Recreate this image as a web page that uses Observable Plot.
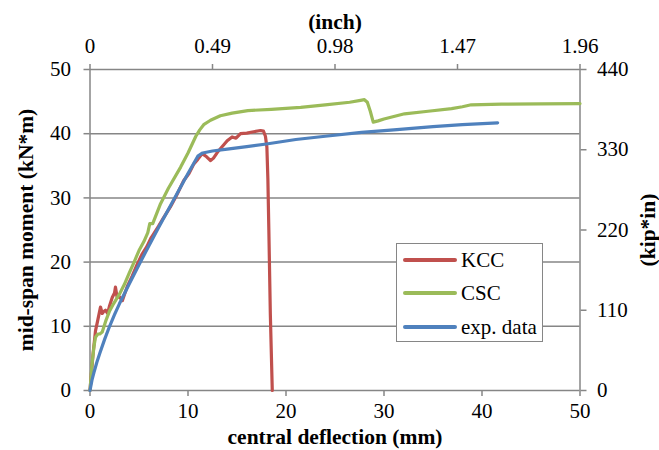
<!DOCTYPE html>
<html>
<head>
<meta charset="utf-8">
<script src="https://cdn.jsdelivr.net/npm/d3@7"></script>
<script src="https://cdn.jsdelivr.net/npm/@observablehq/plot@0.6"></script>
<style>
  body { margin: 0; background: #fff; }
  #wrap { position: relative; width: 659px; height: 450px; }
  #wrap svg, #wrap svg text { font-family: "Liberation Serif", "Times New Roman", serif !important; }
  #legend {
    position: absolute; left: 396px; top: 243px; width: 147px; height: 99px;
    background: #fff; border: 1.5px solid #868686; box-sizing: border-box;
    font-family: "Liberation Serif", "Times New Roman", serif; font-size: 21px; color: #000;
  }
  .li { position: absolute; left: 0; height: 24px; display: flex; align-items: center; }
  .li span.sw { display: inline-block; width: 54px; height: 3.5px; margin-left: 6px; margin-right: 4px; border-radius: 2px; }
</style>
</head>
<body>
<div id="wrap"></div>
<script>
// ---- data ----
const seriesNames = ["KCC", "CSC", "exp. data"];
const seriesColors = ["#C0504D", "#9BBB59", "#4F81BD"];

const kccX = [0, 0.3, 0.56, 0.8, 1.07, 1.25, 1.4, 1.58, 1.8, 2.0, 2.27, 2.5, 2.6, 2.77, 3.0, 3.3, 3.8, 4.3, 4.8, 5.3, 5.8, 6.2, 6.5, 7.0, 7.5, 8.2, 8.8, 9.57, 10.1, 10.6, 11.0, 11.45, 11.9, 12.3, 12.6, 13.0, 13.5, 14.0, 14.5, 14.9, 15.36, 16.0, 16.7, 17.4, 17.7, 17.9, 18.05, 18.15, 18.25, 18.4, 18.6];
const kccY = [0, 5.5, 9.3, 11.0, 13.0, 12.0, 12.3, 12.5, 12.0, 13.2, 14.5, 15.2, 16.1, 14.5, 14.6, 14.0, 16.2, 17.8, 19.6, 21.2, 22.4, 23.7, 24.4, 25.6, 26.9, 28.6, 30.3, 32.7, 33.8, 35.3, 36.0, 36.9, 36.4, 35.8, 36.2, 37.1, 38.0, 38.9, 39.5, 39.3, 40.0, 40.1, 40.3, 40.5, 40.4, 39.6, 37.9, 33.0, 25.0, 12.0, 0];

const cscX = [0, 0.2, 0.4, 0.56, 0.8, 1.0, 1.25, 1.6, 2.0, 2.4, 3.0, 3.5, 4.0, 4.5, 5.0, 5.5, 5.9, 6.1, 6.4, 7.2, 8.0, 9.25, 10.0, 10.8, 11.2, 11.6, 12.3, 13.3, 14.5, 16.1, 18.5, 21.5, 24.0, 26.5, 27.6, 28.0, 28.3, 28.6, 28.9, 29.4, 30.0, 32.1, 34.5, 36.9, 38.0, 38.9, 42.0, 46.0, 50.0];
const cscY = [0, 4.0, 6.8, 8.3, 8.8, 8.8, 9.1, 10.8, 12.4, 13.5, 15.0, 16.5, 18.3, 20.0, 21.8, 23.2, 24.6, 26.0, 26.0, 29.1, 31.5, 34.8, 37.0, 39.6, 40.6, 41.4, 42.1, 42.8, 43.2, 43.6, 43.8, 44.1, 44.5, 44.9, 45.2, 45.3, 44.9, 43.5, 41.8, 42.0, 42.3, 43.1, 43.5, 43.9, 44.2, 44.5, 44.6, 44.65, 44.7];

const expX = [0, 0.2, 0.4, 0.7, 1.0, 1.5, 2.0, 2.5, 3.0, 4.0, 5.0, 6.0, 7.0, 8.0, 9.0, 10.0, 11.0, 11.5, 12.5, 14.0, 16.0, 18.0, 21.0, 24.0, 27.7, 31.0, 35.0, 38.0, 41.6];
const expY = [0, 1.6, 2.8, 4.4, 5.8, 8.0, 10.0, 11.8, 13.5, 16.6, 19.6, 22.5, 25.4, 28.2, 31.0, 33.8, 36.5, 37.0, 37.3, 37.6, 38.0, 38.4, 39.1, 39.6, 40.2, 40.6, 41.1, 41.4, 41.7];

const bottomTicks = [0, 10, 20, 30, 40, 50];
const topTicks = [0, 12.5, 25, 37.5, 50];
const topTickLabels = ["0", "0.49", "0.98", "1.47", "1.96"];
const leftTicks = [0, 10, 20, 30, 40, 50];
const rightTicks = [0, 12.5, 25, 37.5, 50];
const rightTickLabels = ["0", "110", "220", "330", "440"];

const xTitle = "central deflection (mm)";
const yTitle = "mid-span moment (kN*m)";
const topTitle = "(inch)";
const rightTitle = "(kip*in)";

// ---- build table ----
const rows = [];
[[kccX, kccY], [cscX, cscY], [expX, expY]].forEach(([xs, ys], i) => {
  xs.forEach((x, j) => rows.push({series: seriesNames[i], x, y: ys[j]}));
});

const gray = "#868686";
const font = "'Liberation Serif', 'Times New Roman', serif";

const chart = Plot.plot({
  width: 659,
  height: 450,
  marginLeft: 89.5,
  marginRight: 79.5,
  marginTop: 69,
  marginBottom: 60,
  style: {fontFamily: font, fontSize: "21px", color: "#000", background: "#fff", overflow: "visible"},
  x: {domain: [0, 50]},
  y: {domain: [0, 50]},
  color: {domain: seriesNames, range: seriesColors},
  marks: [
    Plot.gridY(leftTicks, {stroke: gray, strokeOpacity: 1, strokeWidth: 1.5}),
    Plot.ruleX([0, 50], {stroke: gray, strokeWidth: 1.5}),
    Plot.axisX(bottomTicks, {anchor: "bottom", tickSize: 6, tickPadding: 7, stroke: gray, strokeWidth: 1.5, fill: "#000", label: null, tickFormat: d => String(d)}),
    Plot.axisX(topTicks, {anchor: "top", tickSize: 6, tickPadding: 11, stroke: gray, strokeWidth: 1.5, fill: "#000", label: null, tickFormat: (d, i) => topTickLabels[topTicks.indexOf(d)]}),
    Plot.axisY(leftTicks, {anchor: "left", tickSize: 6, tickPadding: 13, stroke: gray, strokeWidth: 1.5, fill: "#000", label: null, tickFormat: d => String(d)}),
    Plot.axisY(rightTicks, {anchor: "right", tickSize: 6, tickPadding: 11, stroke: gray, strokeWidth: 1.5, fill: "#000", label: null, tickFormat: d => rightTickLabels[rightTicks.indexOf(d)]}),
    Plot.line(rows, {x: "x", y: "y", z: "series", stroke: "series", strokeWidth: 3.2, strokeLinejoin: "round", strokeLinecap: "round"}),
    Plot.text([xTitle], {frameAnchor: "bottom", dy: 53, text: d => d, fontWeight: "bold", fontSize: 21.5, textAnchor: "middle"}),
    Plot.text([topTitle], {frameAnchor: "top", dy: -56, text: d => d, fontWeight: "bold", fontSize: 21.5, textAnchor: "middle"}),
    Plot.text([yTitle], {frameAnchor: "left", dx: -64, rotate: -90, text: d => d, fontWeight: "bold", fontSize: 21.5, textAnchor: "middle"}),
    Plot.text([rightTitle], {frameAnchor: "right", dx: 68, rotate: -90, text: d => d, fontWeight: "bold", fontSize: 21.5, textAnchor: "middle"})
  ]
});

const wrap = document.getElementById("wrap");
wrap.appendChild(chart);

// legend overlay
const legend = document.createElement("div");
legend.id = "legend";
const rowTops = [4, 37, 71];
seriesNames.forEach((name, i) => {
  const r = document.createElement("div");
  r.className = "li";
  r.style.top = rowTops[i] + "px";
  const sw = document.createElement("span");
  sw.className = "sw";
  sw.style.background = seriesColors[i];
  r.appendChild(sw);
  r.appendChild(document.createTextNode(name));
  legend.appendChild(r);
});
wrap.appendChild(legend);
</script>
</body>
</html>
